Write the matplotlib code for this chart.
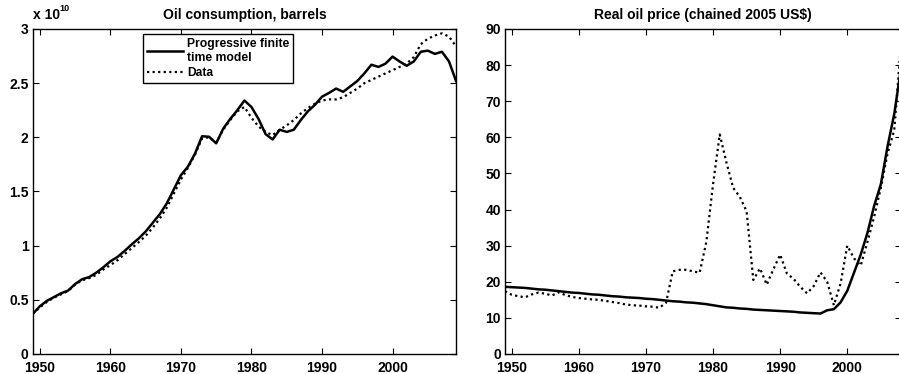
#!/usr/bin/env python3
import matplotlib
matplotlib.use("Agg")
import matplotlib.pyplot as plt

# Oil consumption (units of 1e10 barrels), years 1949-2009
cons_years = list(range(1949, 2010))
cons_model = [
    0.37, 0.44, 0.49, 0.525, 0.56, 0.585, 0.645, 0.69, 0.71, 0.75,
    0.80, 0.855, 0.895, 0.95, 1.01, 1.065, 1.13, 1.21, 1.29, 1.39,
    1.52, 1.65, 1.73, 1.85, 2.01, 2.005, 1.945, 2.08, 2.17, 2.25,
    2.34, 2.28, 2.17, 2.03, 1.98, 2.07, 2.05, 2.07, 2.16, 2.24,
    2.30, 2.375, 2.41, 2.45, 2.42, 2.47, 2.52, 2.59, 2.67, 2.65,
    2.68, 2.745, 2.70, 2.66, 2.70, 2.79, 2.80, 2.77, 2.79, 2.70,
    2.52,
]
cons_data = [
    0.37, 0.43, 0.48, 0.52, 0.55, 0.58, 0.64, 0.68, 0.70, 0.73,
    0.78, 0.82, 0.865, 0.92, 0.975, 1.03, 1.09, 1.165, 1.25, 1.35,
    1.48, 1.61, 1.72, 1.84, 1.99, 2.00, 1.95, 2.07, 2.16, 2.24,
    2.28, 2.18, 2.10, 2.05, 2.02, 2.07, 2.11, 2.16, 2.22, 2.27,
    2.31, 2.34, 2.35, 2.35, 2.37, 2.41, 2.45, 2.50, 2.53, 2.56,
    2.59, 2.62, 2.65, 2.68, 2.74, 2.86, 2.91, 2.94, 2.96, 2.93,
    2.84,
]

# Real oil price (chained 2005 US$), years 1949-2008
price_years = list(range(1949, 2009))
price_model = [
    18.6, 18.5, 18.4, 18.3, 18.1, 17.9, 17.8, 17.6, 17.4, 17.2,
    17.0, 16.9, 16.7, 16.5, 16.4, 16.2, 16.0, 15.9, 15.7, 15.6,
    15.5, 15.3, 15.2, 15.0, 14.8, 14.6, 14.5, 14.3, 14.2, 14.0,
    13.8, 13.5, 13.2, 12.9, 12.8, 12.6, 12.5, 12.3, 12.2, 12.1,
    12.0, 11.9, 11.8, 11.7, 11.5, 11.4, 11.3, 11.2, 12.1, 12.4,
    14.3, 17.5, 22.5, 27.5, 33.5, 41.0, 47.0, 57.5, 66.5, 79.0,
]
price_data = [
    17.4, 16.4, 16.0, 15.7, 16.5, 17.0, 16.7, 16.2, 17.1, 16.3,
    15.8, 15.5, 15.3, 15.1, 15.0, 14.7, 14.4, 14.1, 13.7, 13.5,
    13.4, 13.2, 13.1, 12.8, 14.2, 22.9, 23.3, 23.3, 22.9, 22.5,
    31.0, 47.0, 60.8, 53.0, 46.0, 43.5, 39.5, 20.5, 23.7, 19.2,
    23.5, 27.5, 22.3, 20.8, 18.6, 16.8, 18.8, 22.6, 20.0, 13.5,
    19.5, 30.0, 26.5, 24.5, 31.0, 38.0, 46.0, 55.5, 62.0, 86.0,
]

plt.rcParams["font.family"] = ["Liberation Sans", "DejaVu Sans"]
plt.rcParams["font.weight"] = "bold"
plt.rcParams["font.size"] = 10

fig = plt.figure(figsize=(8.99, 3.74), dpi=100)
ax1 = fig.add_axes([0.0364, 0.0535, 0.4709, 0.869])
ax2 = fig.add_axes([0.5617, 0.0535, 0.4405, 0.869])

dotted = (0, (1, 1.5))

ax1.plot(cons_years, cons_model, color="black", lw=1.8, label="Progressive finite\ntime model")
ax1.plot(cons_years, cons_data, color="black", lw=1.6, ls=dotted, label="Data")
ax1.set_xlim(1949, 2009)
ax1.set_ylim(0, 3)
ax1.set_yticks([0, 0.5, 1, 1.5, 2, 2.5, 3])
ax1.set_yticklabels(["0", "0.5", "1", "1.5", "2", "2.5", "3"])
ax1.set_title("Oil consumption, barrels", fontsize=10, fontweight="bold", pad=7)
ax1.text(0.0, 1.02, "x 10", transform=ax1.transAxes, fontsize=10, fontweight="bold",
         ha="left", va="bottom")
ax1.text(0.063, 1.05, "10", transform=ax1.transAxes, fontsize=6.5, fontweight="bold",
         ha="left", va="bottom")
leg = ax1.legend(loc="upper left", bbox_to_anchor=(0.26, 0.985), fontsize=8.7,
                 handlelength=3.0, handletextpad=0.3, labelspacing=0.25,
                 borderpad=0.35, borderaxespad=0.0, fancybox=False,
                 edgecolor="black", framealpha=1.0)
leg.get_frame().set_linewidth(1.0)

ax2.plot(price_years, price_model, color="black", lw=1.8)
ax2.plot(price_years, price_data, color="black", lw=1.6, ls=dotted)
ax2.set_xlim(1949, 2008)
ax2.set_ylim(0, 90)
ax2.set_yticks(range(0, 91, 10))
ax2.set_title("Real oil price (chained 2005 US\\$)", fontsize=10, fontweight="bold", pad=7)

for ax in (ax1, ax2):
    ax.set_xticks([1950, 1960, 1970, 1980, 1990, 2000])
    ax.tick_params(direction="in", top=True, right=True, length=4, width=0.8,
                   labelsize=10)
    ax.tick_params(axis="x", pad=5)
    ax.tick_params(axis="y", pad=3)
    for sp in ax.spines.values():
        sp.set_linewidth(1.0)
    for lab in ax.get_xticklabels() + ax.get_yticklabels():
        lab.set_fontweight("bold")

fig.savefig("out.png", dpi=100)
